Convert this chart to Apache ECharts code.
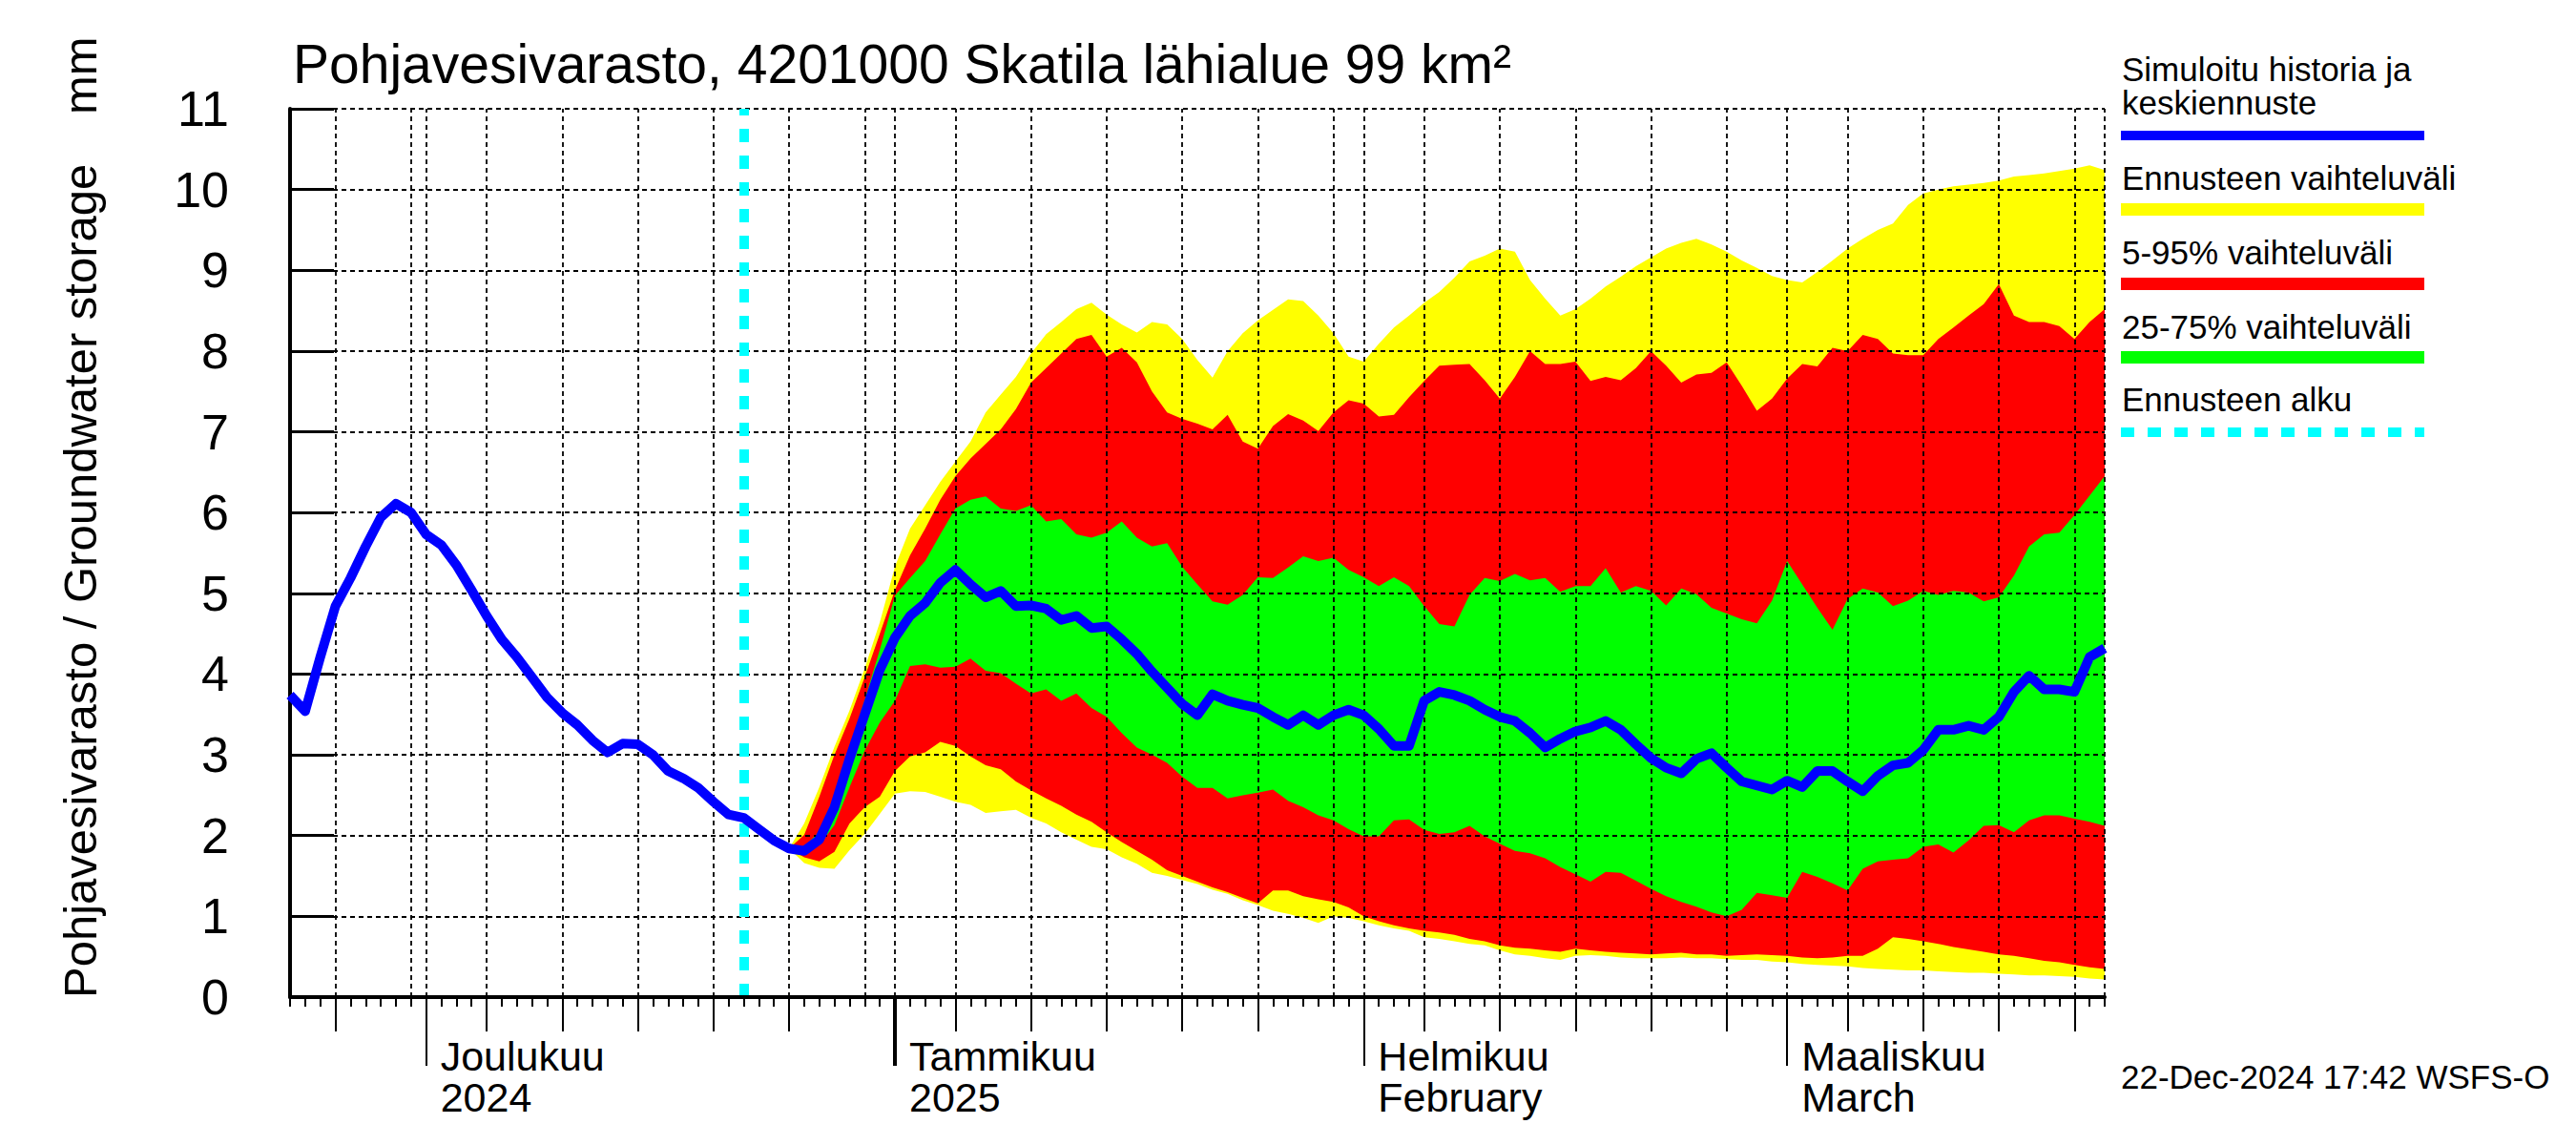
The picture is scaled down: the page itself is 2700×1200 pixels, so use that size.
<!DOCTYPE html>
<html>
<head>
<meta charset="utf-8">
<script src="https://cdn.jsdelivr.net/npm/echarts@6/dist/echarts.min.js"></script>
<style>
html, body { margin: 0; padding: 0; background: #ffffff; }
#chart { width: 2700px; height: 1200px; }
</style>
</head>
<body>
<div id="chart"></div>
<script>
// ---------------- DATA ----------------
// x values are day offsets from 2024-11-22 (day 0) to 2025-03-22 (day 120)
const startDate = '2024-11-22';
const forecastStartDay = 30; // 22-Dec-2024

// Simulated history + median forecast (days 0..120)
const medianSeries = [
  3.74, 3.54, 4.21, 4.84, 5.19, 5.58, 5.94, 6.11, 6.00, 5.73,
  5.60, 5.35, 5.04, 4.72, 4.43, 4.21, 3.96, 3.71, 3.52, 3.37,
  3.18, 3.03, 3.14, 3.13, 3.00, 2.80, 2.71, 2.59, 2.42, 2.26,
  2.22, 2.08, 1.94, 1.84, 1.81, 1.95, 2.35, 2.95, 3.50, 4.05,
  4.45, 4.72, 4.88, 5.13, 5.29, 5.11, 4.95, 5.03, 4.84, 4.85,
  4.81, 4.67, 4.72, 4.57, 4.59, 4.43, 4.25, 4.03, 3.83, 3.63,
  3.49, 3.75, 3.67, 3.62, 3.58, 3.47, 3.37, 3.49, 3.37, 3.49,
  3.56, 3.49, 3.32, 3.11, 3.11, 3.67, 3.78, 3.74, 3.67, 3.56,
  3.47, 3.42, 3.27, 3.09, 3.20, 3.29, 3.34, 3.42, 3.31, 3.13,
  2.96, 2.84, 2.77, 2.95, 3.02, 2.84, 2.67, 2.62, 2.57, 2.68,
  2.60, 2.80, 2.80, 2.67, 2.55, 2.74, 2.87, 2.90, 3.06, 3.31,
  3.31, 3.36, 3.31, 3.47, 3.78, 3.98, 3.81, 3.81, 3.78, 4.21,
  4.32
];

// Forecast bands, days 33..120
const bandStartDay = 33;
const bandMax = [
  1.84, 2.15, 2.60, 3.10, 3.55, 4.07, 4.64, 5.33, 5.80, 6.09,
  6.38, 6.63, 6.88, 7.24, 7.46, 7.68, 7.97, 8.21, 8.36, 8.52,
  8.60, 8.45, 8.33, 8.23, 8.36, 8.33, 8.15, 7.89, 7.67, 8.00,
  8.22, 8.38, 8.51, 8.64, 8.62, 8.44, 8.22, 7.93, 7.87, 8.09,
  8.29, 8.44, 8.60, 8.73, 8.91, 9.11, 9.18, 9.27, 9.23, 8.88,
  8.65, 8.44, 8.52, 8.65, 8.80, 8.92, 9.05, 9.16, 9.27, 9.34,
  9.39, 9.32, 9.23, 9.12, 9.03, 8.93, 8.88, 8.85, 8.98, 9.12,
  9.27, 9.39, 9.50, 9.58, 9.81, 9.95, 10.00, 10.04, 10.06, 10.08,
  10.11, 10.16, 10.18, 10.20, 10.23, 10.26, 10.30, 10.24
];
const band95 = [
  1.84, 2.01, 2.48, 3.00, 3.45, 3.96, 4.50, 5.04, 5.47, 5.80,
  6.16, 6.45, 6.67, 6.85, 7.03, 7.28, 7.61, 7.79, 7.97, 8.15,
  8.20, 7.93, 8.04, 7.86, 7.50, 7.24, 7.16, 7.10, 7.03, 7.21,
  6.88, 6.79, 7.07, 7.22, 7.14, 7.01, 7.24, 7.39, 7.35, 7.19,
  7.21, 7.43, 7.63, 7.82, 7.83, 7.84, 7.64, 7.41, 7.68, 8.00,
  7.84, 7.84, 7.87, 7.63, 7.68, 7.64, 7.79, 8.00, 7.82, 7.61,
  7.71, 7.73, 7.86, 7.57, 7.26, 7.41, 7.66, 7.84, 7.81, 8.04,
  8.00, 8.20, 8.15, 7.97, 7.95, 7.95, 8.15, 8.29, 8.44, 8.58,
  8.83, 8.44, 8.36, 8.36, 8.31, 8.15, 8.36, 8.52
];
const band75 = [
  1.84, 1.86, 2.05, 2.50, 3.08, 3.68, 4.30, 4.97, 5.19, 5.40,
  5.73, 6.05, 6.16, 6.20, 6.05, 6.02, 6.09, 5.89, 5.92, 5.73,
  5.69, 5.75, 5.89, 5.69, 5.58, 5.62, 5.33, 5.11, 4.90, 4.86,
  4.98, 5.20, 5.19, 5.32, 5.46, 5.40, 5.44, 5.29, 5.20, 5.09,
  5.20, 5.09, 4.84, 4.62, 4.59, 4.98, 5.19, 5.15, 5.24, 5.16,
  5.19, 5.02, 5.09, 5.09, 5.31, 5.01, 5.09, 5.03, 4.85, 5.06,
  4.99, 4.82, 4.75, 4.68, 4.63, 4.91, 5.40, 5.11, 4.82, 4.55,
  4.93, 5.06, 5.01, 4.84, 4.91, 5.03, 4.98, 5.03, 5.01, 4.90,
  4.95, 5.22, 5.58, 5.73, 5.75, 5.97, 6.21, 6.45
];
const band25 = [
  1.84, 1.80, 1.88, 2.13, 2.60, 3.05, 3.40, 3.67, 4.10, 4.12,
  4.08, 4.09, 4.19, 4.04, 4.01, 3.88, 3.76, 3.81, 3.67, 3.76,
  3.58, 3.47, 3.27, 3.09, 3.00, 2.90, 2.73, 2.59, 2.59, 2.46,
  2.50, 2.53, 2.57, 2.43, 2.35, 2.25, 2.19, 2.08, 1.99, 1.99,
  2.19, 2.20, 2.07, 2.02, 2.04, 2.12, 1.99, 1.90, 1.81, 1.78,
  1.72, 1.61, 1.52, 1.43, 1.55, 1.54, 1.44, 1.34, 1.25, 1.18,
  1.12, 1.05, 1.00, 1.08, 1.29, 1.26, 1.23, 1.55, 1.49, 1.41,
  1.32, 1.59, 1.68, 1.70, 1.72, 1.86, 1.89, 1.79, 1.94, 2.12,
  2.13, 2.04, 2.19, 2.25, 2.25, 2.21, 2.17, 2.12
];
const band5 = [
  1.84, 1.73, 1.68, 1.80, 2.15, 2.35, 2.48, 2.80, 2.98, 3.03,
  3.16, 3.11, 2.98, 2.87, 2.82, 2.67, 2.56, 2.46, 2.37, 2.26,
  2.17, 2.04, 1.92, 1.81, 1.70, 1.57, 1.50, 1.43, 1.36, 1.30,
  1.23, 1.16, 1.32, 1.32, 1.25, 1.21, 1.18, 1.11, 1.00, 0.94,
  0.89, 0.85, 0.82, 0.80, 0.77, 0.72, 0.69, 0.64, 0.61, 0.60,
  0.58, 0.56, 0.60, 0.58, 0.56, 0.55, 0.54, 0.53, 0.54, 0.55,
  0.53, 0.53, 0.51, 0.52, 0.53, 0.52, 0.51, 0.49, 0.48, 0.49,
  0.51, 0.51, 0.60, 0.74, 0.72, 0.69, 0.66, 0.62, 0.59, 0.56,
  0.53, 0.51, 0.48, 0.45, 0.43, 0.40, 0.37, 0.35
];
const bandMin = [
  1.84, 1.66, 1.60, 1.59, 1.82, 2.02, 2.27, 2.52, 2.55, 2.54,
  2.48, 2.42, 2.38, 2.28, 2.30, 2.32, 2.22, 2.15, 2.04, 1.95,
  1.86, 1.83, 1.73, 1.65, 1.54, 1.50, 1.45, 1.40, 1.33, 1.28,
  1.20, 1.14, 1.07, 1.03, 0.98, 0.92, 1.00, 0.98, 0.94, 0.89,
  0.85, 0.82, 0.74, 0.72, 0.69, 0.66, 0.64, 0.58, 0.53, 0.51,
  0.48, 0.46, 0.51, 0.52, 0.51, 0.49, 0.48, 0.48, 0.48, 0.49,
  0.48, 0.48, 0.47, 0.46, 0.46, 0.44, 0.43, 0.41, 0.40, 0.39,
  0.38, 0.36, 0.35, 0.34, 0.33, 0.33, 0.32, 0.31, 0.30, 0.30,
  0.29, 0.28, 0.27, 0.27, 0.26, 0.25, 0.23, 0.22
];

// Axis ticks / labels (day offsets)
const monthStartDays = [9, 40, 71, 99];
const monthLabels = ['Joulukuu\n2024', 'Tammikuu\n2025', 'Helmikuu\nFebruary', 'Maaliskuu\nMarch'];
const yearStartDays = [40];
const fiveDayTickDays = [3, 13, 18, 23, 28, 33, 44, 49, 54, 59, 64, 75, 80, 85, 90, 95, 103, 108, 113, 118];
const verticalGridDays = [3, 8, 9, 13, 18, 23, 28, 33, 38, 40, 44, 49, 54, 59, 64, 69, 71, 75, 80, 85, 90, 95, 99, 103, 108, 113, 118, 120];
const horizontalGridValues = [1, 2, 3, 4, 5, 6, 7, 8, 9, 10, 11];

const titleText = 'Pohjavesivarasto, 4201000 Skatila lähialue 99 km²';
const yNameText = 'Pohjavesivarasto / Groundwater storage';
const yUnitText = 'mm';
const legendTexts = ['Simuloitu historia ja', 'keskiennuste', 'Ennusteen vaihteluväli', '5-95% vaihteluväli', '25-75% vaihteluväli', 'Ennusteen alku'];
const stampText = '22-Dec-2024 17:42 WSFS-O';

// ---------------- BUILD ----------------
const FONT = '"Liberation Sans", Arial, Helvetica, sans-serif';
const YELLOW = '#ffff00', RED = '#ff0000', GREEN = '#00ff00', BLUE = '#0000ff', CYAN = '#00ffff', WHITE = '#ffffff';

const medianData = medianSeries.map((v, i) => [i, v]);
function toPairs(arr) { return arr.map((v, i) => [bandStartDay + i, v]); }

// Painted from the top boundary downwards; each later area covers the one before.
const layers = [
  { data: toPairs(bandMax), color: YELLOW },
  { data: toPairs(band95), color: RED },
  { data: toPairs(band75), color: GREEN },
  { data: toPairs(band25), color: RED },
  { data: toPairs(band5), color: YELLOW },
  { data: toPairs(bandMin), color: WHITE }
];

const bandSeries = layers.map(l => ({
  type: 'line', data: l.data, symbol: 'none', silent: true, z: 2,
  lineStyle: { width: 0, opacity: 0 },
  areaStyle: { color: l.color, opacity: 1, origin: 'start' }
}));

const gridLineStyle = { color: '#000000', width: 1.8, type: [5, 4] };
const markLineData = []
  .concat(horizontalGridValues.map(v => ({ yAxis: v, lineStyle: gridLineStyle })))
  .concat(verticalGridDays.map(d => ({ xAxis: d, lineStyle: gridLineStyle })))
  .concat([{ xAxis: forecastStartDay, lineStyle: { color: CYAN, width: 10, type: [14, 14] } }]);

const carrierSeries = {
  type: 'line', data: [[0, 0], [120, 0]], symbol: 'none', silent: true, z: 1,
  lineStyle: { opacity: 0, width: 0 },
  markLine: {
    silent: true, symbol: ['none', 'none'], z: 3, animation: false,
    label: { show: false }, emphasis: { disabled: true },
    data: markLineData
  }
};

const medianLine = {
  type: 'line', data: medianData, symbol: 'none', silent: true, z: 10,
  lineStyle: { color: BLUE, width: 10, join: 'round', cap: 'butt' }
};

function baseX(extra) {
  return Object.assign({
    type: 'value', min: 0, max: 120, gridIndex: 0, position: 'bottom', z: 5,
    axisLine: { show: false, onZero: false },
    axisTick: { show: false },
    axisLabel: { show: false },
    splitLine: { show: false }
  }, extra);
}

const xAxes = [
  baseX({
    interval: 1,
    axisLine: { show: true, onZero: false, lineStyle: { color: '#000', width: 4 } },
    axisTick: { show: true, length: 10, lineStyle: { color: '#000', width: 2 } }
  }),
  baseX({
    axisTick: { show: true, length: 36, customValues: fiveDayTickDays, lineStyle: { color: '#000', width: 2 } }
  }),
  baseX({
    axisTick: { show: true, length: 72, customValues: monthStartDays, lineStyle: { color: '#000', width: 2 } },
    axisLabel: {
      show: true, customValues: monthStartDays,
      formatter: function (v) { const i = monthStartDays.indexOf(Math.round(v)); return i >= 0 ? monthLabels[i] : ''; },
      color: '#000', fontFamily: FONT, fontSize: 43, lineHeight: 43,
      align: 'left', verticalAlign: 'top', margin: 40, padding: [0, 0, 0, 15]
    }
  }),
  baseX({
    axisTick: { show: true, length: 72, customValues: yearStartDays, lineStyle: { color: '#000', width: 4 } }
  })
];

const legendX = 2223, legendW = 318;
const graphic = [
  { type: 'text', x: 307, y: 67, silent: true,
    style: { text: titleText, fontSize: 57, fontFamily: FONT, fill: '#000', align: 'left', verticalAlign: 'middle' } },
  { type: 'text', x: 84, y: 1046, rotation: Math.PI / 2, silent: true,
    style: { text: yNameText, fontSize: 49, fontFamily: FONT, fill: '#000', align: 'left', verticalAlign: 'middle' } },
  { type: 'text', x: 84, y: 120, rotation: Math.PI / 2, silent: true,
    style: { text: yUnitText, fontSize: 49, fontFamily: FONT, fill: '#000', align: 'left', verticalAlign: 'middle' } },
  { type: 'text', x: 2223, y: 1128, silent: true,
    style: { text: stampText, fontSize: 35, fontFamily: FONT, fill: '#000', align: 'left', verticalAlign: 'middle' } }
];
const legendTextY = [72, 107, 186, 264, 342, 418];
legendTexts.forEach((t, i) => {
  graphic.push({ type: 'text', x: 2224, y: legendTextY[i], silent: true,
    style: { text: t, fontSize: 35, fontFamily: FONT, fill: '#000', align: 'left', verticalAlign: 'middle' } });
});
graphic.push({ type: 'rect', silent: true, shape: { x: legendX, y: 137, width: legendW, height: 10 }, style: { fill: BLUE } });
graphic.push({ type: 'rect', silent: true, shape: { x: legendX, y: 213, width: legendW, height: 13 }, style: { fill: YELLOW } });
graphic.push({ type: 'rect', silent: true, shape: { x: legendX, y: 291, width: legendW, height: 13 }, style: { fill: RED } });
graphic.push({ type: 'rect', silent: true, shape: { x: legendX, y: 368, width: legendW, height: 13 }, style: { fill: GREEN } });
graphic.push({ type: 'line', silent: true, shape: { x1: legendX, y1: 453, x2: legendX + legendW, y2: 453 },
  style: { stroke: CYAN, lineWidth: 10, lineDash: [14, 14] } });

const option = {
  animation: false,
  backgroundColor: '#ffffff',
  grid: { left: 304, top: 114, width: 1902, height: 931, containLabel: false, outerBoundsMode: 'none' },
  xAxis: xAxes,
  yAxis: {
    type: 'value', min: 0, max: 11, interval: 1, z: 5,
    axisLine: { show: true, onZero: false, lineStyle: { color: '#000', width: 4 } },
    axisTick: { show: true, inside: true, length: 46, lineStyle: { color: '#000', width: 3 } },
    axisLabel: { color: '#000', fontFamily: FONT, fontSize: 52, margin: 64 },
    splitLine: { show: false }
  },
  series: bandSeries.concat([carrierSeries, medianLine]),
  graphic: graphic
};

const chart = echarts.init(document.getElementById('chart'), null, { renderer: 'svg', width: 2700, height: 1200 });
chart.setOption(option);
</script>
</body>
</html>
